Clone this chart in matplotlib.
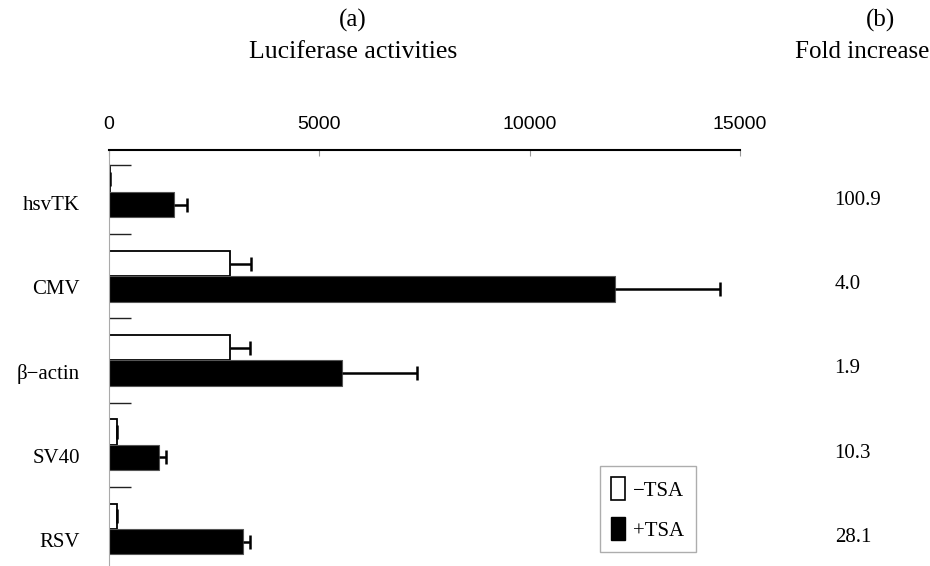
import numpy as np
import matplotlib.pyplot as plt
from matplotlib.patches import Patch

# dados
promotores = ['hsvTK', 'CMV', 'β\u2212actin', 'SV40', 'RSV']
sem_tsa = [15, 2870, 2870, 180, 180]
sem_tsa_err = [0, 500, 470, 0, 0]
com_tsa = [1550, 12040, 5530, 1190, 3180]
com_tsa_err = [300, 2490, 1800, 160, 170]
fold = ['100.9', '4.0', '1.9', '10.3', '28.1']
xticks = [0, 5000, 10000, 15000]

serif = 'Liberation Serif'
sans = 'Liberation Sans'

fig = plt.figure(figsize=(9.3, 5.66), dpi=100)
ax = fig.add_axes([109 / 930, -0.0088, 631 / 930, 0.7438])

y = np.arange(len(promotores))
h = 0.3

# barras -TSA (brancas) e +TSA (pretas)
ax.barh(y - h / 2, sem_tsa, height=h, color='white', edgecolor='black', linewidth=1.3)
ax.barh(y + h / 2, com_tsa, height=h, color='black', edgecolor='#555555', linewidth=0.8)

# barras de erro só para o lado positivo (esconde o cap de baixo)
zeros = np.zeros(len(promotores))
for vals, errs, pos in [(sem_tsa, sem_tsa_err, y - h / 2), (com_tsa, com_tsa_err, y + h / 2)]:
    eb = ax.errorbar(vals, pos, xerr=[zeros, errs], fmt='none', ecolor='black',
                     elinewidth=1.8, capsize=4.7, capthick=1.8)
    eb[1][0].set_visible(False)

ax.set_xlim(0, 15000)
ax.set_ylim(4.5, -0.5)

# eixo x no topo
ax.xaxis.tick_top()
ax.set_xticks(xticks)
ax.set_xticklabels([str(v) for v in xticks], fontfamily=sans, fontsize=14)
ax.tick_params(axis='x', direction='in', length=4, width=0.8, color='#999999', pad=12)

# rótulos das categorias
ax.set_yticks(y + 0.13)
ax.set_yticklabels(promotores, fontfamily=serif, fontsize=15)
ax.tick_params(axis='y', which='major', length=0, pad=21)
ax.set_yticks([-0.32, 0.5, 1.5, 2.5, 3.5], minor=True)
ax.tick_params(axis='y', which='minor', direction='in', length=16, width=1, color='#222222')

for s in ['right', 'bottom']:
    ax.spines[s].set_visible(False)
ax.spines['top'].set_linewidth(1.5)
ax.spines['left'].set_color('#aaaaaa')
ax.spines['left'].set_linewidth(0.8)

# coluna de fold increase
for yi, f in zip(y, fold):
    ax.text(1.15, yi + 0.1, f, transform=ax.get_yaxis_transform(), fontfamily=serif,
            fontsize=15, ha='left', va='center')

# títulos
fig.text(353 / 930, 1 - 20 / 566, '(a)', fontfamily=serif, fontsize=18, ha='center', va='center')
fig.text(353 / 930, 1 - 52 / 566, 'Luciferase activities', fontfamily=serif, fontsize=18.5,
         ha='center', va='center')
fig.text(880 / 930, 1 - 20 / 566, '(b)', fontfamily=serif, fontsize=18, ha='center', va='center')
fig.text(929 / 930, 1 - 52 / 566, 'Fold increase', fontfamily=serif, fontsize=18,
         ha='right', va='center')

# legenda
handles = [Patch(facecolor='white', edgecolor='black', linewidth=1.2, label='\u2212TSA'),
           Patch(facecolor='black', edgecolor='black', label='+TSA')]
leg = fig.legend(handles=handles, loc='lower left', bbox_to_anchor=(600 / 930, 1 - 552 / 566),
                 prop={'family': serif, 'size': 15}, frameon=True, fancybox=False,
                 edgecolor='#999999', handlelength=0.65, handleheight=1.3, handletextpad=0.4,
                 labelspacing=0.8, borderpad=0.55, borderaxespad=0)
leg.get_frame().set_linewidth(1)

plt.savefig('out.png', dpi=100)
